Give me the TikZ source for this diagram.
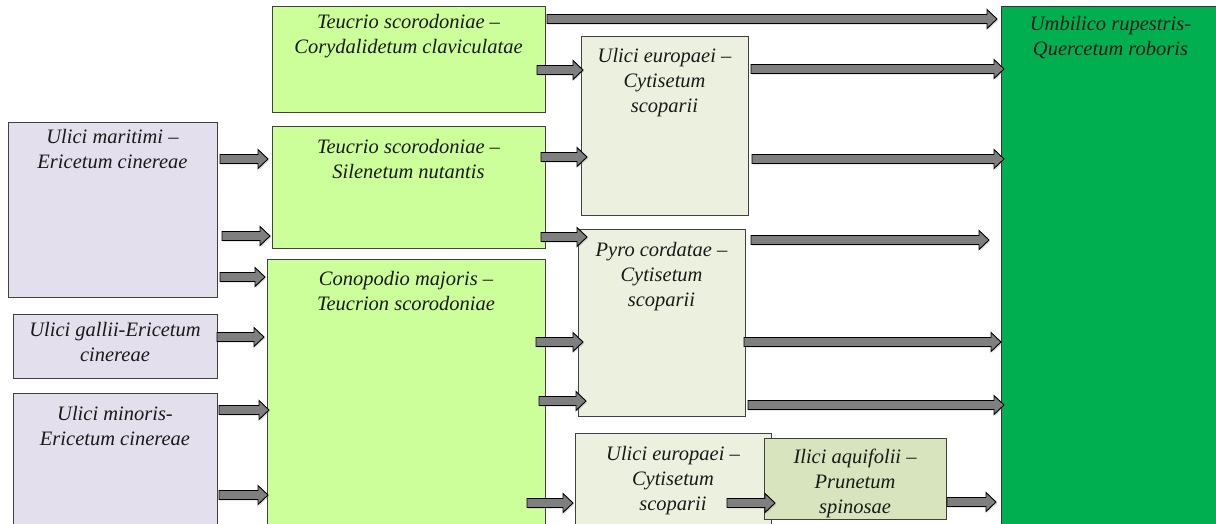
\documentclass[tikz,border=0pt]{standalone}
\usepackage{fontspec}
\setmainfont{Liberation Serif}
\usetikzlibrary{calc,shadows}
\definecolor{cHeath}{HTML}{E4DFEC}
\definecolor{cGrass}{HTML}{CCFF99}
\definecolor{cScrub}{HTML}{EBF1DE}
\definecolor{cThicket}{HTML}{D7E4BD}
\definecolor{cForest}{HTML}{00B050}
\definecolor{cArrow}{HTML}{7F7F7F}

\begin{document}
\begin{tikzpicture}[x=1pt,y=1pt,every node/.style={outer sep=0pt,inner sep=0pt},
  box/.style={draw=black!75,line width=1pt,anchor=north west},
  heath/.style={box,fill=cHeath},
  grass/.style={box,fill=cGrass},
  scrub/.style={box,fill=cScrub},
  thicket/.style={box,fill=cThicket},
  forest/.style={box,fill=cForest,draw=black!80},
  txt/.style={font=\itshape\fontsize{20.5}{25}\selectfont,align=center,
              text=black!90,anchor=north},
  blk/.style={draw=black,line width=0.9pt,fill=cArrow,line join=miter,
    drop shadow={shadow xshift=1.2pt,shadow yshift=-1.2pt,opacity=.3},
    to path={let \p1=(\tikztostart), \p2=(\tikztotarget) in
      (\x1,\y1+4.5pt) -- (\x2-10pt,\y1+4.5pt) -- (\x2-10pt,\y1+9.5pt)
      -- (\x2,\y1) -- (\x2-10pt,\y1-9.5pt) -- (\x2-10pt,\y1-4.5pt)
      -- (\x1,\y1-4.5pt) -- cycle}}]
\clip (0,0) rectangle (1216,-524);

% name/style/left/top/width/height/text drop/label
\foreach \n/\s/\x/\y/\w/\h/\dy/\t in {%
  p1/heath/8/123/209/174/6/{Ulici maritimi –\\Ericetum cinereae},
  p2/heath/13/314/204/64/8/{Ulici gallii-Ericetum\\cinereae},
  p3/heath/13/393/204/140/13/{Ulici minoris-\\Ericetum cinereae},
  g1/grass/272/7/273/106/7/{Teucrio scorodoniae –\\Corydalidetum claviculatae},
  g2/grass/272/127/273/121/12/{Teucrio scorodoniae –\\Silenetum nutantis},
  g3/grass/267/259/278/275/12/{Conopodio majoris –\\Teucrion scorodoniae},
  e1/scrub/581/37/167/178/11/{Ulici europaei –\\Cytisetum\\scoparii},
  e2/scrub/578/229/167/187/13/{Pyro cordatae –\\Cytisetum\\scoparii},
  e3/scrub/575/433/196/100/13/{Ulici europaei –\\Cytisetum\\scoparii},
  e4/thicket/764/438/182/81/11/{Ilici aquifolii –\\Prunetum\\spinosae},
  dk/forest/1001/7/219/530/9/{Umbilico rupestris-\\Quercetum roboris}}
{
  \node[\s,minimum width=\w pt,minimum height=\h pt] (\n) at (\x,-\y) {};
  \node[txt] (\n-t) at ([yshift=-\dy pt]\n.north) {\t};
}

% from/shift/to/shift/row
\foreach \a/\sa/\b/\sb/\y in {%
  g1/2/dk/-4/19,   g1/-8/e1/2/70,   e1/3/dk/3/69,    e1/4/dk/3/159,
  p1/3/g2/-4/159,  g2/-4/e1/6/157,  p1/5/g2/-2/236,  g2/-4/e2/9/237,
  e2/6/dk/-12/240, p1/3/g3/-2/277,  p2/0/g3/-3/337,  g3/-9/e2/5/342,
  e2/-1/dk/0/342,  p3/2/g3/2/410,   g3/-6/e2/8/401,  e2/3/dk/3/405,
  p3/2/g3/1/495,   g3/-18/e3/-2/503, e3/-44/e4/11/503, e4/1/dk/-5/502}
  \draw[blk] ([xshift=\sa pt]\a.east |- 0,-\y) to ([xshift=\sb pt]\b.west |- 0,-\y);
\end{tikzpicture}
\end{document}
